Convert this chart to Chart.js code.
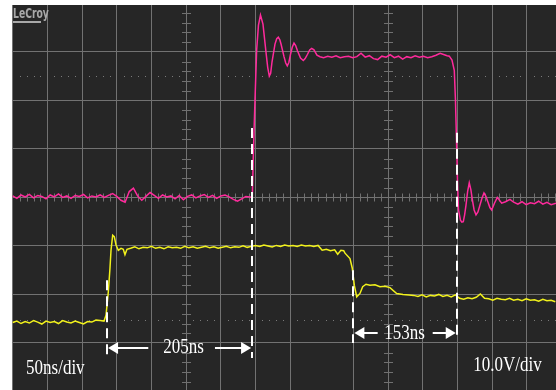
<!DOCTYPE html>
<html><head><meta charset="utf-8">
<script src="https://cdn.jsdelivr.net/npm/chart.js@4/dist/chart.umd.min.js"></script>
<style>html,body{margin:0;padding:0;background:#fff;overflow:hidden}#wrap{position:absolute;left:0;top:0;width:556px;height:390px}</style>
</head><body><div id="wrap"><canvas id="c" width="556" height="390"></canvas></div>
<script>
// ---- Channel 2 (pink) : time in ns, level in V ----
const pinkTime = [0,6,12,18,24,30,36,42,48,54,60,66,72,78,84,90,96,102,108,114,120,126,132,138,144,150,156,162,168,174,180,186,192,198,204,210,216,222,228,234,240,246,252,258,264,270,276,282,288,294,300,306,312,318,324,330,336,342,
345.3,347,349.2,351.6,354.2,357.1,360.7,365,367.5,369.8,371.8,373.7,378,380.5,382.8,385,386.7,391,393.5,395.7,398,400.4,403,405.4,407.8,410.4,414.8,418.8,421.5,424.9,428,430.9,434.2,438.5,442.9,
448,454,460,466,472,478,484,490,496,502,508,514,520,526,532,538,544,550,556,562,568,574,580,586,592,598,604,610,616,622,626,
629.2,633.1,636.4,638.1,639.6,641,642.5,645.3,647.3,649.4,651.3,653.3,655.6,658,660.3,662.6,665,667.7,670.5,673.4,676.3,679.2,682,685,687.7,690.3,694.3,698.4,704.7,710.2,716.7,
722,728,734,740,746,752,758,764,770,776,783];
const pinkVolt = [0.3,-0.2,0.5,0.1,0.6,-0.1,0.4,0.2,-0.3,0.5,0.1,0.7,0.0,0.3,-0.2,0.4,0.2,0.6,-0.1,0.3,0.1,0.5,0.0,0.4,0.8,0.2,-0.6,-1.0,1.2,1.9,0.3,-0.6,0.2,1.0,0.4,-0.2,0.5,0.1,0.3,-0.3,0.4,-0.5,0.2,0.5,-0.1,0.3,0.6,0.0,0.4,-0.2,0.3,0.5,0.1,-0.4,-0.8,-0.3,0.2,0.1,
0.0,9.8,20.1,30.4,35.5,37.6,35.7,30.0,26.8,25.0,25.6,27.9,31.6,32.7,33.0,32.5,31.6,29.0,27.7,27.1,27.8,29.5,31.0,31.8,31.3,30.2,28.7,28.2,28.6,29.5,30.4,30.7,30.4,29.3,29.0,
28.8,29.1,28.9,29.2,28.8,29.0,29.1,28.8,29.0,29.7,28.9,29.2,28.6,28.4,29.1,28.9,29.4,28.8,29.1,28.5,29.0,28.8,29.2,28.9,29.1,28.8,29.0,29.3,29.7,29.4,29.2,
29.1,28.3,26.2,20.1,11.8,3.6,-2.6,-4.7,-5.1,-5.0,-3.6,-1.6,1.2,3.0,1.6,-0.6,-2.6,-3.6,-3.0,-1.6,-0.2,0.9,0.2,-1.0,-2.1,-2.6,-1.2,0.0,-1.2,-0.9,-0.4,
-1.0,-1.4,-0.9,-1.5,-1.1,-1.3,-0.8,-1.4,-1.0,-1.5,-1.2];

// ---- Channel 1 (yellow) ----
const yellowTime = [0,6,12,18,24,30,36,42,48,54,60,66,72,78,84,90,96,102,108,114,120,126,
131.6,134.5,137.8,140.2,141.7,144.1,146.4,148.9,152.2,156.1,159.4,161.8,164.7,
170,176,182,188,194,200,206,212,218,224,230,236,242,248,254,260,266,272,278,284,290,296,302,308,314,320,326,332,338,344,350,356,362,368,374,380,386,392,398,404,410,416,422,428,434,440,
446,452,458,464,468.4,473,477,478.9,486.1,489.4,492.3,495.8,500.5,504.4,509.2,514.9,522.1,529.3,536.5,543.7,553.4,562.5,571.1,
578,584,590,596,602,608,614,620,626,632,638,644,650,656,662,668,674,680,686,692,698,704,710,716,722,728,734,740,746,752,758,764,770,776,782];
const yellowVolt = [-25.8,-25.5,-26.0,-25.6,-25.9,-25.4,-25.7,-26.1,-25.5,-25.8,-25.6,-26.0,-25.4,-25.7,-25.9,-25.5,-25.8,-26.1,-25.6,-25.7,-25.3,-25.4,
-25.5,-24.3,-19.5,-14.6,-10.9,-7.8,-8.1,-9.8,-10.9,-10.5,-10.7,-11.8,-10.7,
-10.5,-10.2,-10.6,-10.3,-10.4,-10.1,-10.5,-10.3,-10.6,-10.2,-10.4,-10.3,-10.5,-10.1,-10.4,-10.2,-10.5,-10.3,-10.1,-10.4,-10.2,-10.5,-10.3,-10.1,-10.4,-10.2,-10.3,-10.0,-10.3,-10.1,-9.9,-10.1,-9.8,-10.0,-10.2,-9.9,-10.1,-9.8,-10.0,-9.9,-10.1,-9.8,-10.0,-9.9,-10.1,-9.9,
-10.9,-10.7,-11.0,-10.8,-11.7,-10.9,-11.0,-11.5,-12.6,-14.6,-18.1,-20.5,-19.8,-18.4,-17.9,-18.1,-18.0,-18.4,-18.3,-18.6,-19.8,-20.0,-20.1,
-20.2,-20.4,-20.1,-20.5,-20.2,-20.3,-20.0,-20.4,-20.2,-20.5,-20.1,-20.8,-21.0,-20.7,-20.9,-20.6,-19.9,-20.8,-20.9,-21.2,-20.8,-21.0,-21.1,-20.8,-21.2,-21.0,-21.3,-20.9,-21.2,-21.1,-21.4,-21.0,-21.3,-21.2,-21.5];

// ---- graticule ----
const xGridNs = [-1,50,100,150,200,250,300,350,400,491,541,591,641,691,741];
const yGridV = [30,20,10,0,-10,-20,-30];
const centerAxesNs = [250,541];
const markerLevelsV = [25,-25.3];

// ---- timing measurements ----
const edgeNs = [136,345,491,640];
const edgeTopV = [-17.1,14.3,-15.0,13.3];
const edgeBottomV = [-33.1,-33.1,-30.0,-29.0];
const spanLabels = ['205ns','153ns'];
const spanFromNs = [136,491];
const spanToNs = [345,640];
const spanLevelV = [-31.0,-28.0];
const spanGapNs = [[195.4,291.5],[526,605.3]];
const spanTextNs = [217,535.5];
const spanTextV = [-32.0,-29.1];
const scaleLabels = ['50ns/div','10.0V/div'];
const scaleLabelNs = [19.2,663.8];
const scaleLabelV = [-36.3,-35.7];

const toPts = (ts, vs) => ts.map((t,i)=>({x:t,y:vs[i]}));

function minorTimes(){
  const out=[];
  for(let t=10;t<=440;t+=10){ if(t%50) out.push(t); }
  for(let k=1;441+10*k<783;k++){ if(k%5) out.push(441+10*k); }
  return out;
}

function serifText(ctx, txt, px, py){
  ctx.save();
  ctx.translate(px, py);
  ctx.scale(0.81, 1);
  ctx.font = '21px "Liberation Serif", "Times New Roman", serif';
  ctx.textAlign='left'; ctx.textBaseline='alphabetic';
  ctx.fillStyle='#ffffff';
  ctx.fillText(txt, 0, 0);
  ctx.restore();
}
function arrow(ctx, x1, x2, y){
  const dir = Math.sign(x2-x1);
  ctx.beginPath(); ctx.moveTo(x1, y); ctx.lineTo(x2 - dir*9, y); ctx.stroke();
  ctx.beginPath(); ctx.moveTo(x2, y); ctx.lineTo(x2-dir*10, y-6); ctx.lineTo(x2-dir*10, y+6); ctx.closePath(); ctx.fill();
}

const scopeDecor = {
  id:'scopeDecor',
  beforeDraw(c){
    const {ctx, chartArea:a} = c;
    ctx.save();
    ctx.fillStyle='#ffffff'; ctx.fillRect(0,0,c.width,c.height);
    ctx.fillStyle='#262626'; ctx.fillRect(a.left,a.top,a.right-a.left,a.bottom-a.top);
    ctx.restore();
  },
  beforeDatasetsDraw(c){
    const {ctx, scales:{x,y}} = c;
    ctx.save();
    const mins = minorTimes();
    ctx.fillStyle='#7a7a7a';
    markerLevelsV.forEach(v=>{
      const py = Math.round(y.getPixelForValue(v));
      mins.forEach(t=>ctx.fillRect(Math.round(x.getPixelForValue(t)), py, 1, 1));
    });
    ctx.strokeStyle='#707070'; ctx.lineWidth=1;
    const py0 = Math.round(y.getPixelForValue(0))+0.5;
    mins.forEach(t=>{
      const px = Math.round(x.getPixelForValue(t))+0.5;
      ctx.beginPath(); ctx.moveTo(px, py0-4); ctx.lineTo(px, py0+4); ctx.stroke();
    });
    centerAxesNs.forEach(t=>{
      const px = Math.round(x.getPixelForValue(t));
      for(let v=-38; v<=38; v+=2){
        if(v%10===0) continue;
        const py = Math.round(y.getPixelForValue(v))+0.5;
        ctx.beginPath(); ctx.moveTo(px-4, py); ctx.lineTo(px+5, py); ctx.stroke();
      }
    });
    // logo
    ctx.save();
    ctx.translate(13, 18);
    ctx.scale(0.66, 1);
    ctx.font = 'bold 14px "DejaVu Sans", sans-serif';
    ctx.fillStyle = '#a8a8a8';
    ctx.fillText('LeCroy', 0, 0);
    ctx.restore();
    ctx.fillStyle = '#a8a8a8';
    ctx.fillRect(13, 21, 28, 2);
    ctx.restore();
  },
  afterDatasetsDraw(c){
    const {ctx, scales:{x,y}} = c;
    ctx.save();
    ctx.strokeStyle='#ffffff'; ctx.fillStyle='#ffffff';
    ctx.lineWidth=2;
    ctx.setLineDash([10,6]);
    edgeNs.forEach((t,i)=>{
      const px = Math.round(x.getPixelForValue(t));
      ctx.beginPath();
      ctx.moveTo(px, y.getPixelForValue(edgeTopV[i]));
      ctx.lineTo(px, y.getPixelForValue(edgeBottomV[i]));
      ctx.stroke();
    });
    ctx.setLineDash([]);
    spanLabels.forEach((lab,i)=>{
      const py = Math.round(y.getPixelForValue(spanLevelV[i]));
      const xa = x.getPixelForValue(spanFromNs[i]), xb = x.getPixelForValue(spanToNs[i]);
      const g1 = x.getPixelForValue(spanGapNs[i][0]), g2 = x.getPixelForValue(spanGapNs[i][1]);
      arrow(ctx, g1, xa+1, py);
      arrow(ctx, g2, xb-1, py);
      serifText(ctx, lab, x.getPixelForValue(spanTextNs[i]), y.getPixelForValue(spanTextV[i]));
    });
    scaleLabels.forEach((lab,i)=>{
      serifText(ctx, lab, x.getPixelForValue(scaleLabelNs[i]), y.getPixelForValue(scaleLabelV[i]));
    });
    ctx.restore();
  }
};

new Chart(document.getElementById('c'), {
  type:'line',
  data:{datasets:[
    {label:'CH2', data:toPts(pinkTime,pinkVolt), borderColor:'#ff2a9c', borderWidth:1.5, pointRadius:0, tension:0, fill:false},
    {label:'CH1', data:toPts(yellowTime,yellowVolt), borderColor:'#f2f21c', borderWidth:1.5, pointRadius:0, tension:0, fill:false}
  ]},
  options:{
    responsive:false, animation:false, devicePixelRatio:1,
    layout:{padding:{left:12, top:5, right:0, bottom:0}},
    plugins:{legend:{display:false}, tooltip:{enabled:false}},
    scales:{
      x:{type:'linear', min:-1, max:783,
         afterBuildTicks:s=>{s.ticks = xGridNs.map(v=>({value:v}));},
         ticks:{display:false}, grid:{color:'#727272', lineWidth:1, drawTicks:false}, border:{display:false}},
      y:{type:'linear', min:-39.7, max:39.65,
         afterBuildTicks:s=>{s.ticks = yGridV.map(v=>({value:v}));},
         ticks:{display:false}, grid:{color:'#727272', lineWidth:1, drawTicks:false}, border:{display:false}}
    }
  },
  plugins:[scopeDecor]
});
</script></body></html>
